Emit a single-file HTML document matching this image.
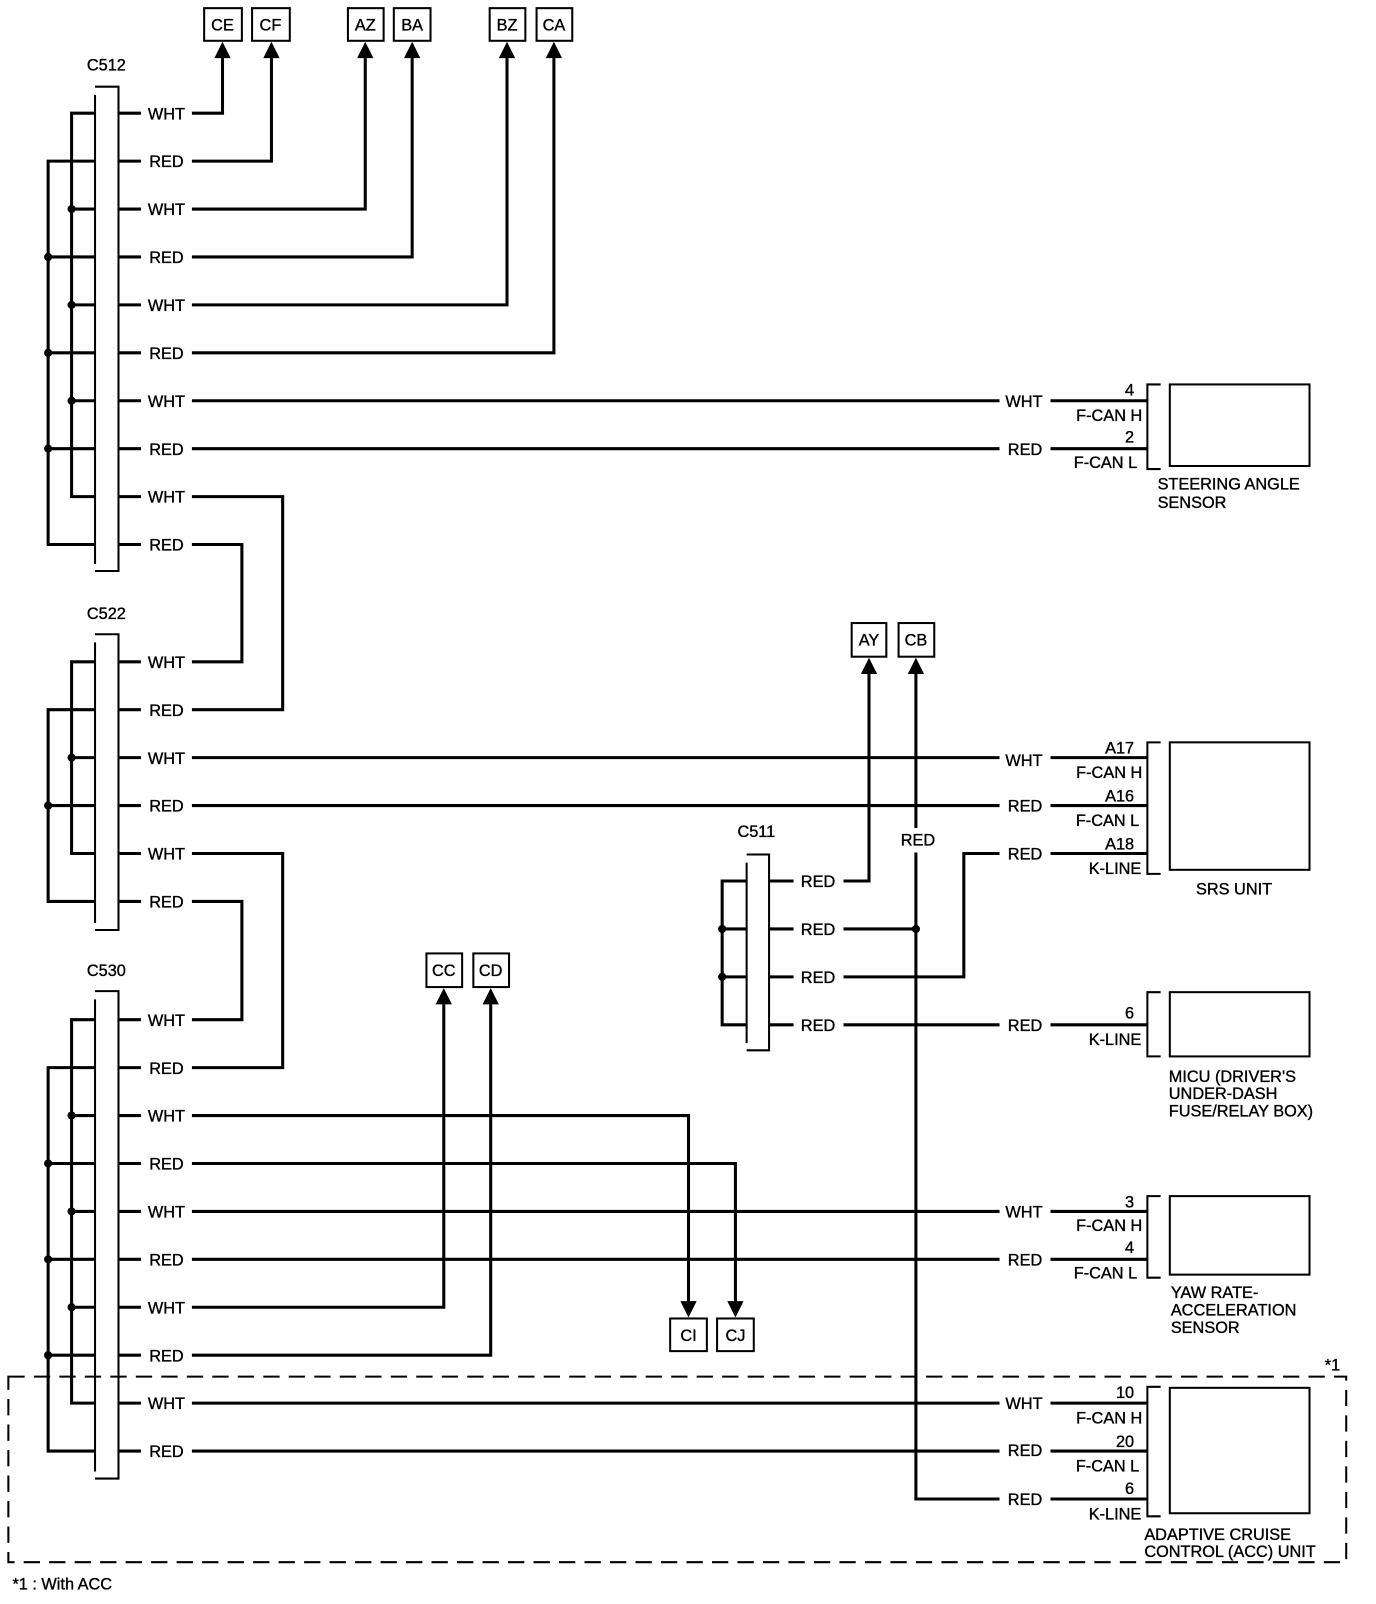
<!DOCTYPE html>
<html><head><meta charset="utf-8"><style>
html,body{margin:0;padding:0;background:#fff}
svg{display:block}
text{font-family:"Liberation Sans",Arial,sans-serif;font-size:16px;fill:#000;stroke:#000;stroke-width:0.35}
.w{stroke:#000;stroke-width:3;fill:none}
.t{stroke:#000;stroke-width:2;fill:none}
.l{text-anchor:middle}
.r{text-anchor:end}
</style></head><body>
<svg width="1376" height="1604" viewBox="0 0 1349 1573" xmlns="http://www.w3.org/2000/svg">
<g class="t">
<rect x="200" y="8" width="37" height="32"/><rect x="247" y="8" width="37" height="32"/>
<rect x="341" y="8" width="35" height="32"/><rect x="386" y="8" width="36" height="32"/>
<rect x="480" y="8" width="35" height="32"/><rect x="526" y="8" width="35" height="32"/>
<rect x="835" y="611" width="34" height="33"/><rect x="881" y="611" width="35" height="33"/>
<rect x="418" y="935" width="35" height="33"/><rect x="464" y="935" width="35" height="33"/>
<rect x="657" y="1293" width="36" height="32"/><rect x="703" y="1293" width="36" height="32"/>
</g>
<g class="l">
<text x="218" y="30">CE</text><text x="265" y="30">CF</text>
<text x="358" y="30">AZ</text><text x="404" y="30">BA</text>
<text x="497" y="30">BZ</text><text x="543" y="30">CA</text>
<text x="852" y="633">AY</text><text x="898" y="633">CB</text>
<text x="435" y="957">CC</text><text x="481" y="957">CD</text>
<text x="675" y="1315">CI</text><text x="721" y="1315">CJ</text>
</g>
<g fill="#000">
<polygon points="218,41 210,57 226,57"/><polygon points="266,41 258,57 274,57"/>
<polygon points="358,41 350,57 366,57"/><polygon points="404,41 396,57 412,57"/>
<polygon points="497,41 489,57 505,57"/><polygon points="543,41 535,57 551,57"/>
<polygon points="852,645 844,661 860,661"/><polygon points="898,645 890,661 906,661"/>
<polygon points="435,969 427,985 443,985"/><polygon points="481,969 473,985 489,985"/>
<polygon points="675,1292 667,1276 683,1276"/><polygon points="721,1292 713,1276 729,1276"/>
</g>
<g class="t">
<path d="M93 85H116V560H93M93 93V553"/>
<path d="M93 622H116V912H93M93 630V905"/>
<path d="M93 972H116V1450H93M93 980V1443"/>
<path d="M732 838H754V1030H732M732 846V1023"/>
</g>
<text x="85" y="69">C512</text><text x="85" y="607">C522</text><text x="85" y="957">C530</text><text x="723" y="821">C511</text>
<g class="w">
<path d="M93 111H70V487H93"/><path d="M93 158H47V534H93"/>
<path d="M70 205H93M70 299H93M70 393H93M47 252H93M47 346H93M47 440H93"/>
<path d="M93 649H70V837H93"/><path d="M93 696H47V884H93"/><path d="M70 743H93M47 790H93"/>
<path d="M93 1000H70V1376H93"/><path d="M93 1047H47V1423H93"/>
<path d="M70 1094H93M70 1188H93M70 1282H93M47 1141H93M47 1235H93M47 1329H93"/>
<path d="M732 864H708V1005H732M708 911H732M708 958H732"/>
</g>
<g fill="#000">
<circle cx="70" cy="205" r="4"/><circle cx="70" cy="299" r="4"/><circle cx="70" cy="393" r="4"/>
<circle cx="47" cy="252" r="4"/><circle cx="47" cy="346" r="4"/><circle cx="47" cy="440" r="4"/>
<circle cx="70" cy="743" r="4"/><circle cx="47" cy="790" r="4"/>
<circle cx="70" cy="1094" r="4"/><circle cx="70" cy="1188" r="4"/><circle cx="70" cy="1282" r="4"/>
<circle cx="47" cy="1141" r="4"/><circle cx="47" cy="1235" r="4"/><circle cx="47" cy="1329" r="4"/>
<circle cx="708" cy="911" r="4"/><circle cx="708" cy="958" r="4"/><circle cx="898" cy="911" r="4"/>
</g>
<g class="w">
<path d="M116 111H138M116 158H138M116 205H138M116 252H138M116 299H138M116 346H138M116 393H138M116 440H138M116 487H138M116 534H138"/>
<path d="M116 649H138M116 696H138M116 743H138M116 790H138M116 837H138M116 884H138"/>
<path d="M116 1000H138M116 1047H138M116 1094H138M116 1141H138M116 1188H138M116 1235H138M116 1282H138M116 1329H138M116 1376H138M116 1423H138"/>
<path d="M754 864H778M754 911H778M754 958H778M754 1005H778"/>
</g>
<g class="l">
<text x="163" y="117">WHT</text><text x="163" y="164">RED</text><text x="163" y="211">WHT</text><text x="163" y="258">RED</text><text x="163" y="305">WHT</text><text x="163" y="352">RED</text><text x="163" y="399">WHT</text><text x="163" y="446">RED</text><text x="163" y="493">WHT</text><text x="163" y="540">RED</text>
<text x="163" y="655">WHT</text><text x="163" y="702">RED</text><text x="163" y="749">WHT</text><text x="163" y="796">RED</text><text x="163" y="843">WHT</text><text x="163" y="890">RED</text>
<text x="163" y="1006">WHT</text><text x="163" y="1053">RED</text><text x="163" y="1100">WHT</text><text x="163" y="1147">RED</text><text x="163" y="1194">WHT</text><text x="163" y="1241">RED</text><text x="163" y="1288">WHT</text><text x="163" y="1335">RED</text><text x="163" y="1382">WHT</text><text x="163" y="1429">RED</text>
<text x="802" y="870">RED</text><text x="802" y="917">RED</text><text x="802" y="964">RED</text><text x="802" y="1011">RED</text>
<text x="1004" y="399">WHT</text><text x="1005" y="446">RED</text>
<text x="1004" y="751">WHT</text><text x="1005" y="796">RED</text><text x="1005" y="843">RED</text>
<text x="1005" y="1011">RED</text>
<text x="1004" y="1194">WHT</text><text x="1005" y="1241">RED</text>
<text x="1004" y="1382">WHT</text><text x="1005" y="1428">RED</text><text x="1005" y="1476">RED</text>
<text x="900" y="829">RED</text>
</g>
<g class="w">
<path d="M188 111H218V57M188 158H266V57M188 205H358V57M188 252H404V57M188 299H497V57M188 346H543V57"/>
<path d="M188 393H980M188 440H980M188 487H277V696H188M188 534H237V649H188"/>
<path d="M188 743H980M188 790H980M188 837H277V1047H188M188 884H237V1000H188"/>
<path d="M188 1094H675V1277M188 1141H721V1277M188 1188H980M188 1235H980M188 1282H435V985M188 1329H481V985M188 1376H980M188 1423H980"/>
<path d="M827 864H852V661M827 911H898M898 661V812M898 836V1470H980M827 958H945V837H980M827 1005H980"/>
<path d="M1030 393H1125M1030 440H1125M1030 743H1125M1030 790H1125M1030 837H1125M1030 1005H1125M1030 1188H1125M1030 1235H1125M1030 1376H1125M1030 1423H1125M1030 1470H1125"/>
</g>
<g class="t">
<path d="M1138 377H1125V460H1138"/><rect x="1147" y="377" width="137" height="80"/>
<path d="M1138 728H1125V857H1138"/><rect x="1147" y="728" width="137" height="125"/>
<path d="M1138 973H1125V1036H1138"/><rect x="1147" y="973" width="137" height="63"/>
<path d="M1138 1173H1125V1253H1138"/><rect x="1147" y="1173" width="137" height="77"/>
<path d="M1138 1360H1125V1487H1138"/><rect x="1147" y="1361" width="137" height="123"/>
</g>
<g class="r">
<text x="1112" y="388">4</text><text x="1120" y="413">F-CAN H</text><text x="1112" y="434">2</text><text x="1115" y="459">F-CAN L</text>
<text x="1112" y="739">A17</text><text x="1120" y="763">F-CAN H</text><text x="1112" y="786">A16</text><text x="1117" y="810">F-CAN L</text><text x="1112" y="833">A18</text><text x="1119" y="857">K-LINE</text>
<text x="1112" y="999">6</text><text x="1119" y="1025">K-LINE</text>
<text x="1112" y="1184">3</text><text x="1120" y="1207">F-CAN H</text><text x="1112" y="1229">4</text><text x="1115" y="1254">F-CAN L</text>
<text x="1112" y="1371">10</text><text x="1120" y="1396">F-CAN H</text><text x="1112" y="1419">20</text><text x="1117" y="1443">F-CAN L</text><text x="1112" y="1465">6</text><text x="1119" y="1490">K-LINE</text>
</g>
<text x="1135" y="480">STEERING ANGLE</text><text x="1135" y="498">SENSOR</text>
<text x="1210" y="877" class="l">SRS UNIT</text>
<text x="1146" y="1061">MICU (DRIVER'S</text><text x="1146" y="1078">UNDER-DASH</text><text x="1146" y="1095">FUSE/RELAY BOX)</text>
<text x="1148" y="1273">YAW RATE-</text><text x="1148" y="1290">ACCELERATION</text><text x="1148" y="1307">SENSOR</text>
<text x="1122" y="1510">ADAPTIVE CRUISE</text><text x="1122" y="1527">CONTROL (ACC) UNIT</text>
<rect x="8" y="1350" width="1312" height="182" fill="none" stroke="#000" stroke-width="2" stroke-dasharray="16,9"/>
<text x="1299" y="1344">*1</text>
<text x="12" y="1559">*1 : With ACC</text>
</svg>
</body></html>
